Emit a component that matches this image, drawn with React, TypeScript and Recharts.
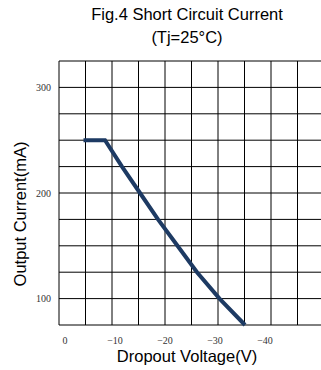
import React from 'react';
import { LineChart, Line, XAxis, YAxis, CartesianGrid } from 'recharts';

// Dropout voltage (V) and short circuit output current (mA)
const voltage = [-3.7, -8.0, -11.4, -15.0, -18.6, -22.5, -26.4, -30.9, -36.0];
const current = [250, 250, 225, 200, 175, 150, 125, 100, 75];

const xTicks = [0, -10, -20, -30, -40];
const yTicks = [75, 100, 125, 150, 175, 200, 225, 250, 275, 300, 325];
const yLabels = [100, 200, 300];

const data = voltage.map((v, i) => ({ v, i: current[i] }));

const sans = '"Liberation Sans", Arial, sans-serif';
const serif = '"Liberation Serif", "Times New Roman", serif';

const fmtX = (v: number) => (v === 0 ? '0' : `\u2212${Math.abs(v)}`);
const fmtY = (v: number) => (yLabels.includes(v) ? String(v) : '');

const App: React.FC = () => {
    return (
        <div style={{ position: 'absolute', left: 0, top: 0, width: 321, height: 370, overflow: 'hidden', background: '#fff' }}>
            <div style={{ position: 'absolute', left: 37, top: 3, width: 300, textAlign: 'center', fontFamily: sans, fontSize: 16.5, lineHeight: '23px', color: '#000' }}>
                <div>Fig.4 Short Circuit Current</div>
                <div>(Tj=25°C)</div>
            </div>

            <LineChart width={330} height={370} data={data} margin={{ top: 61, right: 6, bottom: 15, left: 0 }}>
                <CartesianGrid
                    stroke="#000"
                    strokeWidth={1}
                    verticalCoordinatesGenerator={({ offset }: any) =>
                        Array.from({ length: 11 }, (_, k) => offset.left + (k * offset.width) / 10)
                    }
                />
                <XAxis
                    dataKey="v"
                    type="number"
                    domain={[-51.8, 1.2]}
                    reversed
                    ticks={xTicks}
                    tickFormatter={fmtX}
                    axisLine={false}
                    tickLine={false}
                    tickMargin={6}
                    height={30}
                    tick={{ fontFamily: serif, fontSize: 10, fill: '#333' }}
                />
                <YAxis
                    dataKey="i"
                    type="number"
                    domain={[75, 325]}
                    ticks={yTicks}
                    tickFormatter={fmtY}
                    interval={0}
                    axisLine={false}
                    tickLine={false}
                    width={59}
                    tick={{ fontFamily: serif, fontSize: 10, fill: '#333' }}
                />
                <Line
                    dataKey="i"
                    stroke="#1d3a63"
                    strokeWidth={4}
                    dot={false}
                    type="linear"
                    isAnimationActive={false}
                />
            </LineChart>

            <div style={{ position: 'absolute', left: 19.5, top: 213.5, transform: 'translate(-50%, -50%) rotate(-90deg)', whiteSpace: 'nowrap', fontFamily: sans, fontSize: 16.5, color: '#000' }}>
                Output Current(mA)
            </div>
            <div style={{ position: 'absolute', left: 187, top: 356, transform: 'translate(-50%, -50%)', whiteSpace: 'nowrap', fontFamily: sans, fontSize: 16.5, color: '#000' }}>
                Dropout Voltage(V)
            </div>
        </div>
    );
};

export default App;
